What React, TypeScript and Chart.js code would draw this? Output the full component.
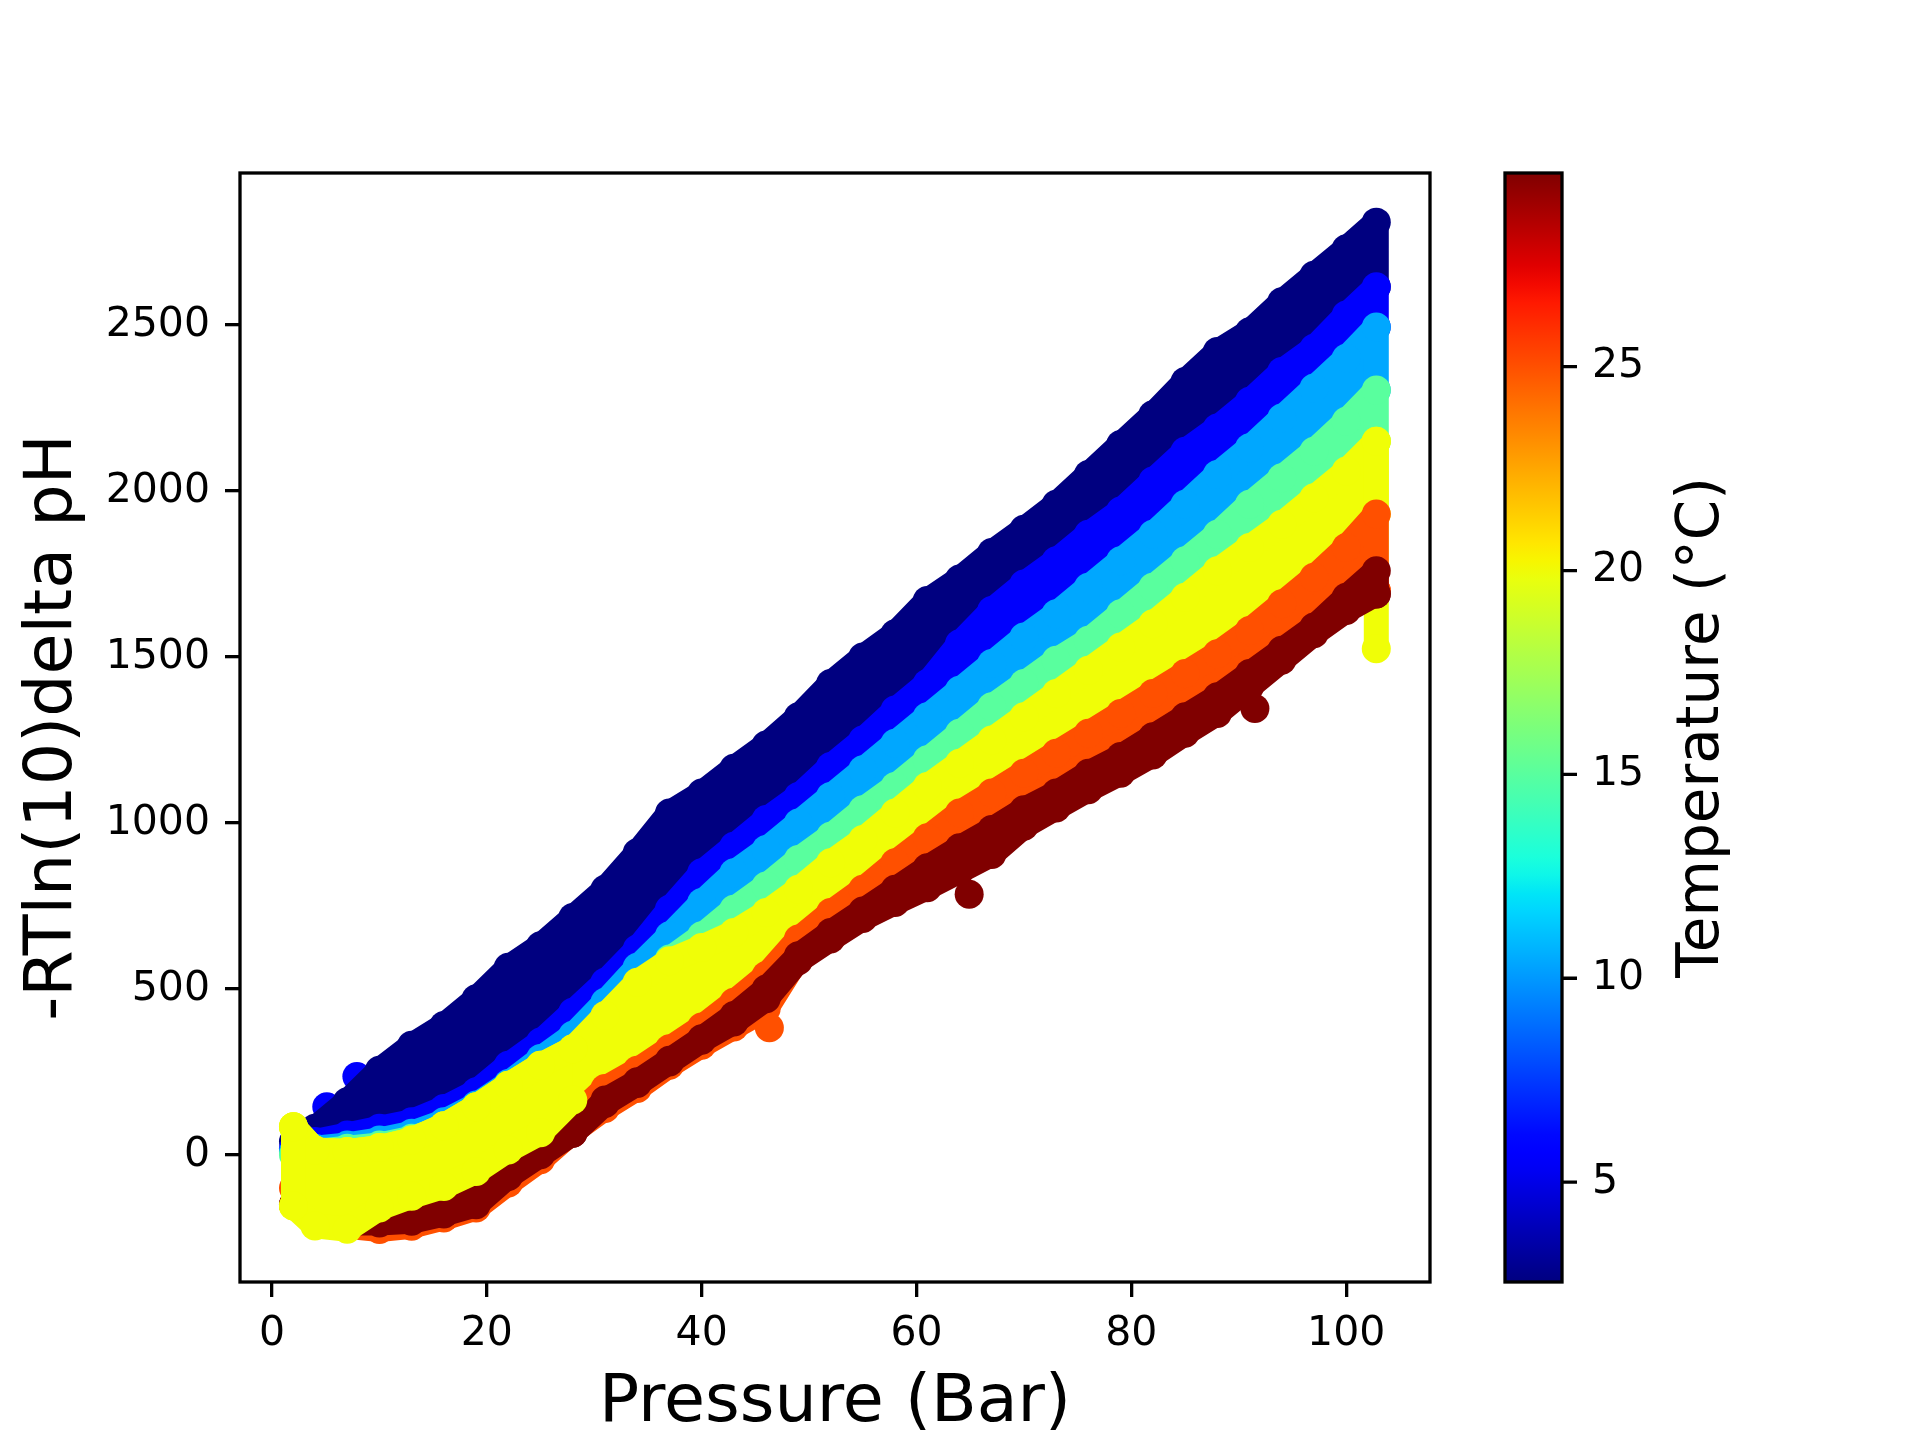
import { useEffect, useRef } from 'react'
import { Chart, registerables } from 'chart.js'

Chart.register(...registerables)

// pressure grid shared by the bands (Bar)
const PRESSURE = [2, 4, 7, 10, 13, 16, 19, 22, 25, 28, 31, 34, 37, 40, 43, 46, 49, 52, 55, 58, 61, 64, 67, 70, 73, 76, 79, 82, 85, 88, 91, 94, 97, 100, 102.8]

// upper edge (marker centres) of each temperature band
const NAVY_TOP = [40, 80, 160, 255, 330, 390, 470, 565, 630, 715, 800, 910, 1030, 1090, 1165, 1235, 1320, 1420, 1500, 1570, 1670, 1735, 1815, 1885, 1960, 2050, 2140, 2230, 2330, 2420, 2480, 2570, 2650, 2730, 2810]
const BLUE_TOP = [20, 40, 60, 80, 100, 140, 190, 270, 340, 430, 520, 620, 740, 850, 930, 1010, 1080, 1170, 1250, 1340, 1420, 1540, 1640, 1720, 1790, 1870, 1940, 2030, 2120, 2190, 2270, 2360, 2430, 2530, 2615]
const SKY_TOP = [10, 20, 30, 45, 65, 100, 150, 215, 290, 360, 460, 565, 660, 760, 850, 920, 1000, 1080, 1160, 1240, 1320, 1400, 1480, 1560, 1630, 1710, 1790, 1870, 1960, 2050, 2130, 2220, 2310, 2400, 2494]
const GREEN_TOP = [0, 10, 20, 30, 50, 80, 120, 180, 250, 310, 400, 500, 590, 660, 740, 810, 890, 960, 1040, 1110, 1190, 1270, 1350, 1420, 1490, 1550, 1630, 1710, 1790, 1870, 1960, 2040, 2120, 2210, 2304]
const YELLOW_TOP = [85, 15, 10, 22, 45, 88, 145, 210, 270, 320, 420, 520, 585, 625, 670, 730, 800, 880, 950, 1030, 1110, 1180, 1250, 1320, 1390, 1460, 1530, 1600, 1680, 1760, 1830, 1900, 1980, 2060, 2150]
const ORANGE_TOP = [-100, -120, -140, -140, -120, -90, -50, -10, 45, 110, 200, 255, 320, 385, 460, 540, 650, 730, 800, 880, 955, 1030, 1090, 1150, 1210, 1270, 1330, 1390, 1450, 1510, 1580, 1660, 1740, 1830, 1931]
const ORANGE_BOTTOM = [-150, -200, -215, -225, -215, -190, -160, -85, -15, 70, 140, 200, 270, 330, 385, 440, 595, 660, 722, 770, 815, 865, 915, 1000, 1055, 1110, 1160, 1215, 1280, 1340, 1420, 1500, 1580, 1650, 1700]
const RED_TOP = [-150, -170, -185, -185, -170, -145, -110, -50, 5, 65, 165, 220, 285, 350, 420, 500, 600, 670, 735, 800, 865, 925, 980, 1040, 1090, 1150, 1200, 1260, 1320, 1380, 1450, 1520, 1590, 1680, 1760]
const RED_BOTTOM = [-150, -185, -205, -205, -200, -178, -150, -65, 0, 65, 155, 215, 280, 345, 400, 470, 585, 650, 712, 760, 805, 855, 905, 990, 1045, 1100, 1150, 1205, 1270, 1330, 1410, 1490, 1570, 1640, 1690]

// 20 °C run at low pressure, drawn over the other runs
const OVERLAY_P = [2, 4, 7, 10, 13, 16, 19, 22, 25, 28]
const OVERLAY_TOP = [85, 15, 10, 22, 45, 88, 145, 210, 270, 320]
const OVERLAY_BOTTOM = [-154, -214, -224, -160, -125, -95, -50, 15, 67, 165]

// first pressure step of the 20 °C run, and its drop at the last step
const START_P = [2, 2]
const START_V = [85, -154]
const SPIKE_P = [102.8, 102.8]
const SPIKE_V = [2150, 1525]

// stray points
const BLUE_OUT_P = [5.1, 7.9]
const BLUE_OUT_V = [145, 236]
const ORANGE_OUT_P = [46.3]
const ORANGE_OUT_V = [383]
const RED_OUT_P = [64.9, 91.5]
const RED_OUT_V = [785, 1345]

// temperature of each band (°C): navy, blue, sky, green, yellow, orange, red
const TEMPS = [2.55, 5.5, 10.4, 15, 20, 25, 29.75]
const TEMP_MIN = 2.55
const TEMP_MAX = 29.75

const X_TICKS = [0, 20, 40, 60, 80, 100]
const Y_TICKS = [0, 500, 1000, 1500, 2000, 2500]
const T_TICKS = [5, 10, 15, 20, 25]

const FONT = "'DejaVu Sans', sans-serif"
const R = 14.5 // marker radius
const W = 25 // width of the run traced between markers
const LW = 3.3

function lerp(t: number, stops: number[][]) {
  for (let i = 1; i < stops.length; i++) {
    if (t <= stops[i][0]) {
      const [x0, y0] = stops[i - 1]
      const [x1, y1] = stops[i]
      return y0 + ((t - x0) / (x1 - x0)) * (y1 - y0)
    }
  }
  return stops[stops.length - 1][1]
}

function jet(t: number) {
  const r = lerp(t, [[0, 0], [0.35, 0], [0.66, 1], [0.89, 1], [1, 0.5]])
  const g = lerp(t, [[0, 0], [0.125, 0], [0.375, 1], [0.64, 1], [0.91, 0], [1, 0]])
  const b = lerp(t, [[0, 0.5], [0.11, 1], [0.34, 1], [0.65, 0], [1, 0]])
  return `rgb(${Math.round(r * 255)},${Math.round(g * 255)},${Math.round(b * 255)})`
}

const tempColor = (c: number) => jet((c - TEMP_MIN) / (TEMP_MAX - TEMP_MIN))
const [NAVY, BLUE, SKY, GREEN, YELLOW, ORANGE, RED] = TEMPS.map(tempColor)

const pts = (xs: number[], ys: number[]) => xs.map((x, i) => ({ x, y: ys[i] }))

// a band's top line closes down the last pressure column to the band below it
const closed = (ys: number[], below: number[]) =>
  pts([...PRESSURE, PRESSURE[PRESSURE.length - 1]], [...ys, below[below.length - 1]])

function band(data: { x: number; y: number }[], color: string, fill: number | false, line = true) {
  return {
    data,
    borderColor: color,
    backgroundColor: color,
    borderWidth: line ? W : 0,
    borderCapStyle: 'round',
    borderJoinStyle: 'round',
    showLine: line,
    pointRadius: R,
    pointHoverRadius: R,
    pointBorderWidth: 0,
    tension: 0,
    fill,
  }
}

const framePlugin = {
  id: 'frame',
  afterDatasetsDraw(chart: any) {
    const { ctx, chartArea: a } = chart
    ctx.save()
    ctx.strokeStyle = '#000'
    ctx.lineWidth = LW
    ctx.strokeRect(a.left, a.top, a.right - a.left, a.bottom - a.top)
    ctx.restore()
  },
}

const colorbarPlugin = {
  id: 'colorbar',
  afterDraw(chart: any) {
    const { ctx, chartArea } = chart
    const s = chart.scales.temp
    const x0 = chartArea.right + 75
    const w = 57
    const grad = ctx.createLinearGradient(0, s.bottom, 0, s.top)
    for (let i = 0; i <= 60; i++) grad.addColorStop(i / 60, jet(i / 60))
    ctx.save()
    ctx.fillStyle = grad
    ctx.fillRect(x0, s.top, w, s.bottom - s.top)
    ctx.strokeStyle = '#000'
    ctx.lineWidth = LW
    ctx.strokeRect(x0, s.top, w, s.bottom - s.top)
    ctx.beginPath()
    T_TICKS.forEach((t) => {
      const y = s.getPixelForValue(t)
      ctx.moveTo(x0 + w, y)
      ctx.lineTo(x0 + w + 15, y)
    })
    ctx.stroke()
    ctx.translate(1718, (s.top + s.bottom) / 2)
    ctx.rotate(-Math.PI / 2)
    ctx.fillStyle = '#000'
    ctx.font = `58px ${FONT}`
    ctx.textAlign = 'center'
    ctx.textBaseline = 'alphabetic'
    ctx.fillText('Temperature (°C)', 0, 0)
    ctx.restore()
  },
}

const tickStyle = { font: { family: FONT, size: 41 }, color: '#000', callback: (v: number | string) => String(v) }
const gridStyle = { drawOnChartArea: false, drawTicks: true, tickLength: 15, color: '#000', lineWidth: LW }

export default function App() {
  const canvasRef = useRef<HTMLCanvasElement>(null)

  useEffect(() => {
    if (!canvasRef.current) return

    const list: any[] = [
      band(pts(BLUE_OUT_P, BLUE_OUT_V), BLUE, false, false), // 0
      band(closed(NAVY_TOP, BLUE_TOP), NAVY, 2), // 1
      band(closed(BLUE_TOP, SKY_TOP), BLUE, 3), // 2
      band(closed(SKY_TOP, GREEN_TOP), SKY, 4), // 3
      band(closed(GREEN_TOP, YELLOW_TOP), GREEN, 5), // 4
      band(closed(YELLOW_TOP, ORANGE_TOP), YELLOW, 7), // 5
      band(pts(SPIKE_P, SPIKE_V), YELLOW, false), // 6
      band(closed(ORANGE_TOP, ORANGE_BOTTOM), ORANGE, 8), // 7
      band(pts(PRESSURE, ORANGE_BOTTOM), ORANGE, false), // 8
      band(pts(ORANGE_OUT_P, ORANGE_OUT_V), ORANGE, false, false), // 9
      band(closed(RED_TOP, RED_BOTTOM), RED, 11), // 10
      band(pts(PRESSURE, RED_BOTTOM), RED, false), // 11
      band(pts(RED_OUT_P, RED_OUT_V), RED, false, false), // 12
      band(pts(OVERLAY_P, OVERLAY_TOP), YELLOW, 14), // 13
      band(pts(OVERLAY_P, OVERLAY_BOTTOM), YELLOW, false), // 14
      band(pts(START_P, START_V), YELLOW, false), // 15
    ]
    const datasets = list.map((d, i) => ({ ...d, order: 100 - i }))

    const chart = new Chart(canvasRef.current, {
      type: 'line',
      data: { datasets },
      plugins: [framePlugin, colorbarPlugin],
      options: {
        animation: false,
        responsive: true,
        maintainAspectRatio: false,
        devicePixelRatio: 1,
        layout: { padding: { top: 173, left: 0, right: 0, bottom: 0 } },
        plugins: { legend: { display: false }, tooltip: { enabled: false } },
        events: [],
        scales: {
          x: {
            type: 'linear',
            min: -2.98,
            max: 107.8,
            afterBuildTicks: (axis: any) => { axis.ticks = X_TICKS.map((value) => ({ value })) },
            afterFit: (axis: any) => { axis.height = 158 },
            ticks: { ...tickStyle, padding: 13, maxRotation: 0 },
            grid: gridStyle,
            border: { display: false },
            title: {
              display: true,
              text: 'Pressure (Bar)',
              color: '#000',
              font: { family: FONT, size: 66.7, lineHeight: 1 },
              padding: { top: 0, bottom: 3 },
            },
          },
          y: {
            type: 'linear',
            min: -383,
            max: 2958,
            afterBuildTicks: (axis: any) => { axis.ticks = Y_TICKS.map((value) => ({ value })) },
            afterFit: (axis: any) => { axis.width = 240 },
            ticks: { ...tickStyle, padding: 15 },
            grid: gridStyle,
            border: { display: false },
            title: {
              display: true,
              text: '-RTln(10)delta pH',
              color: '#000',
              font: { family: FONT, size: 66.7, lineHeight: 1 },
              padding: { top: 20, bottom: 0 },
            },
          },
          temp: {
            type: 'linear',
            position: 'right',
            display: true,
            min: TEMP_MIN,
            max: TEMP_MAX,
            afterBuildTicks: (axis: any) => { axis.ticks = T_TICKS.map((value) => ({ value })) },
            afterFit: (axis: any) => { axis.width = 490 },
            ticks: { ...tickStyle, padding: 15 },
            grid: { display: true, drawOnChartArea: false, drawTicks: true, tickLength: 147, color: 'rgba(0,0,0,0)' },
            border: { display: false },
          },
        },
      } as any,
    })

    return () => { chart.destroy() }
  }, [])

  return (
    <div style={{ position: 'absolute', left: 0, top: 0, width: 1920, height: 1440, background: '#fff' }}>
      <canvas ref={canvasRef} />
    </div>
  )
}
